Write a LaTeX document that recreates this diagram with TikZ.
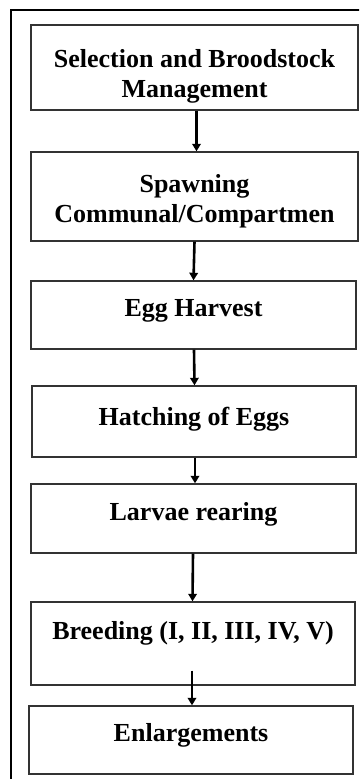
\documentclass[tikz,border=0pt]{standalone}
\usepackage{fontspec}
\setmainfont{Liberation Serif}
\usetikzlibrary{arrows.meta}
\tikzset{
  stagebox/.style={draw=black!80, line width=1.4pt, fill=white, inner sep=0pt,
    font=\bfseries\fontsize{26}{29.5}\selectfont, align=center},
  flowarrow/.style={line width=2.6pt, -{Triangle[length=7.5pt,width=8.5pt]}},
  frame/.style={line width=1.7pt, draw=black}
}
\begin{document}
\begin{tikzpicture}[x=1pt,y=-1pt]
\useasboundingbox (0,0) rectangle (359,779);
\clip (0,0) rectangle (359,779);
\fill[white] (0,0) rectangle (359,779);
\draw[frame] (11,10) rectangle (400,820);

\node[stagebox, minimum width=327pt, minimum height=85pt, text height=59pt, text depth=0pt] (b1) at (194.5,67.5)
  {Selection and Broodstock\\Management};
\node[stagebox, minimum width=327pt, minimum height=89pt, text height=51pt, text depth=0pt] (b2) at (194.5,196.5)
  {Spawning\\Communal/Compartmen};
\node[stagebox, minimum width=325pt, minimum height=68pt, text height=16pt, text depth=13pt] (b3) at (193.5,315)
  {Egg Harvest};
\node[stagebox, minimum width=324pt, minimum height=71pt, text height=16pt, text depth=9pt] (b4) at (194,421.5)
  {Hatching of Eggs};
\node[stagebox, minimum width=325pt, minimum height=69pt, text height=16pt, text depth=13pt] (b5) at (193.5,518.5)
  {Larvae rearing};
\node[stagebox, minimum width=324pt, minimum height=83pt, text height=16pt, text depth=25pt] (b6) at (193,643.5)
  {Breeding (I, II, III, IV, V)};
\node[stagebox, minimum width=324pt, minimum height=68pt, text height=16pt, text depth=13pt] (b7) at (191,740)
  {Enlargements};

\draw[flowarrow] ([xshift=2pt]b1.south) -- ([xshift=2pt]b2.north);
\draw[flowarrow] ([xshift=0pt]b2.south) -- ([xshift=0pt]b3.north);
\draw[flowarrow] ([xshift=0.5pt]b3.south) -- ([xshift=0.5pt]b4.north);
\draw[flowarrow] ([xshift=1pt]b4.south) -- ([xshift=1.5pt]b5.north);
\draw[flowarrow] ([xshift=-0.5pt]b5.south) -- ([xshift=-0.5pt]b6.north);
\draw[flowarrow] ([xshift=-1pt,yshift=15pt]b6.south) -- ([xshift=1pt]b7.north);
\end{tikzpicture}
\end{document}
